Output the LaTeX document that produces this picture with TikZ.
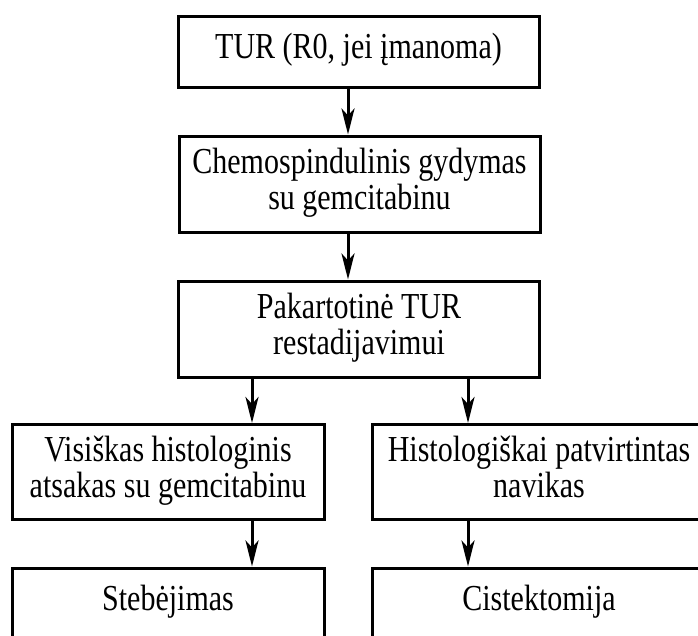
\documentclass[tikz,border=0pt]{standalone}
\usepackage{fontspec}
\usepackage{graphicx}
\setmainfont{Liberation Serif}
\usetikzlibrary{arrows.meta}
\usetikzlibrary{calc}
\newcommand{\boxtext}[1]{\scalebox{1}[1.22]{\begin{tabular}{@{}c@{}}#1\end{tabular}}}

\begin{document}
\begin{tikzpicture} [x=1pt, y=-1pt,
 box/.style={draw, black, line width=3pt, inner sep=0pt,
  font=\fontsize{30}{28.5}\selectfont},
 arr/.style={black, line width=3pt, -{Stealth[length=26pt, width=13pt, inset=7pt]}}]
\useasboundingbox (0,0) rectangle (698,635);
\clip (0,0) rectangle (698,635);
\node[box, minimum width=361, minimum height=71] (tur) at (358.5,51.5) {\boxtext{TUR (R0, jei įmanoma)}};
\node[box, minimum width=361, minimum height=96] (chemo) at (359.5,184) {\boxtext{Chemospindulinis gydymas\\su gemcitabinu}};
\node[box, minimum width=361, minimum height=96] (restad) at (359,329) {\boxtext{Pakartotinė TUR\\restadijavimui}};
\node[box, minimum width=312, minimum height=95] (atsakas) at (168,472) {\boxtext{Visiškas histologinis\\atsakas su gemcitabinu}};
\node[box, minimum width=334, minimum height=95] (navikas) at (539,472) {\boxtext{Histologiškai patvirtintas\\navikas}};
\node[box, minimum width=312, minimum height=71] (stebej) at (168,603.5) {\boxtext{Stebėjimas}};
\node[box, minimum width=334, minimum height=71] (cistek) at (539,603.5) {\boxtext{Cistektomija}};
\coordinate (mid) at (348,0);
\coordinate (lft) at (252,0);
\coordinate (rgt) at (468,0);
\draw[arr] (tur.south -| mid) -- (chemo.north -| mid);
\draw[arr] (chemo.south -| mid) -- (restad.north -| mid);
\draw[arr] (restad.south -| lft) -- (atsakas.north -| lft);
\draw[arr] (restad.south -| rgt) -- (navikas.north -| rgt);
\draw[arr] (atsakas.south -| lft) -- (stebej.north -| lft);
\draw[arr] (navikas.south -| rgt) -- (cistek.north -| rgt);
\end{tikzpicture}
\end{document}
